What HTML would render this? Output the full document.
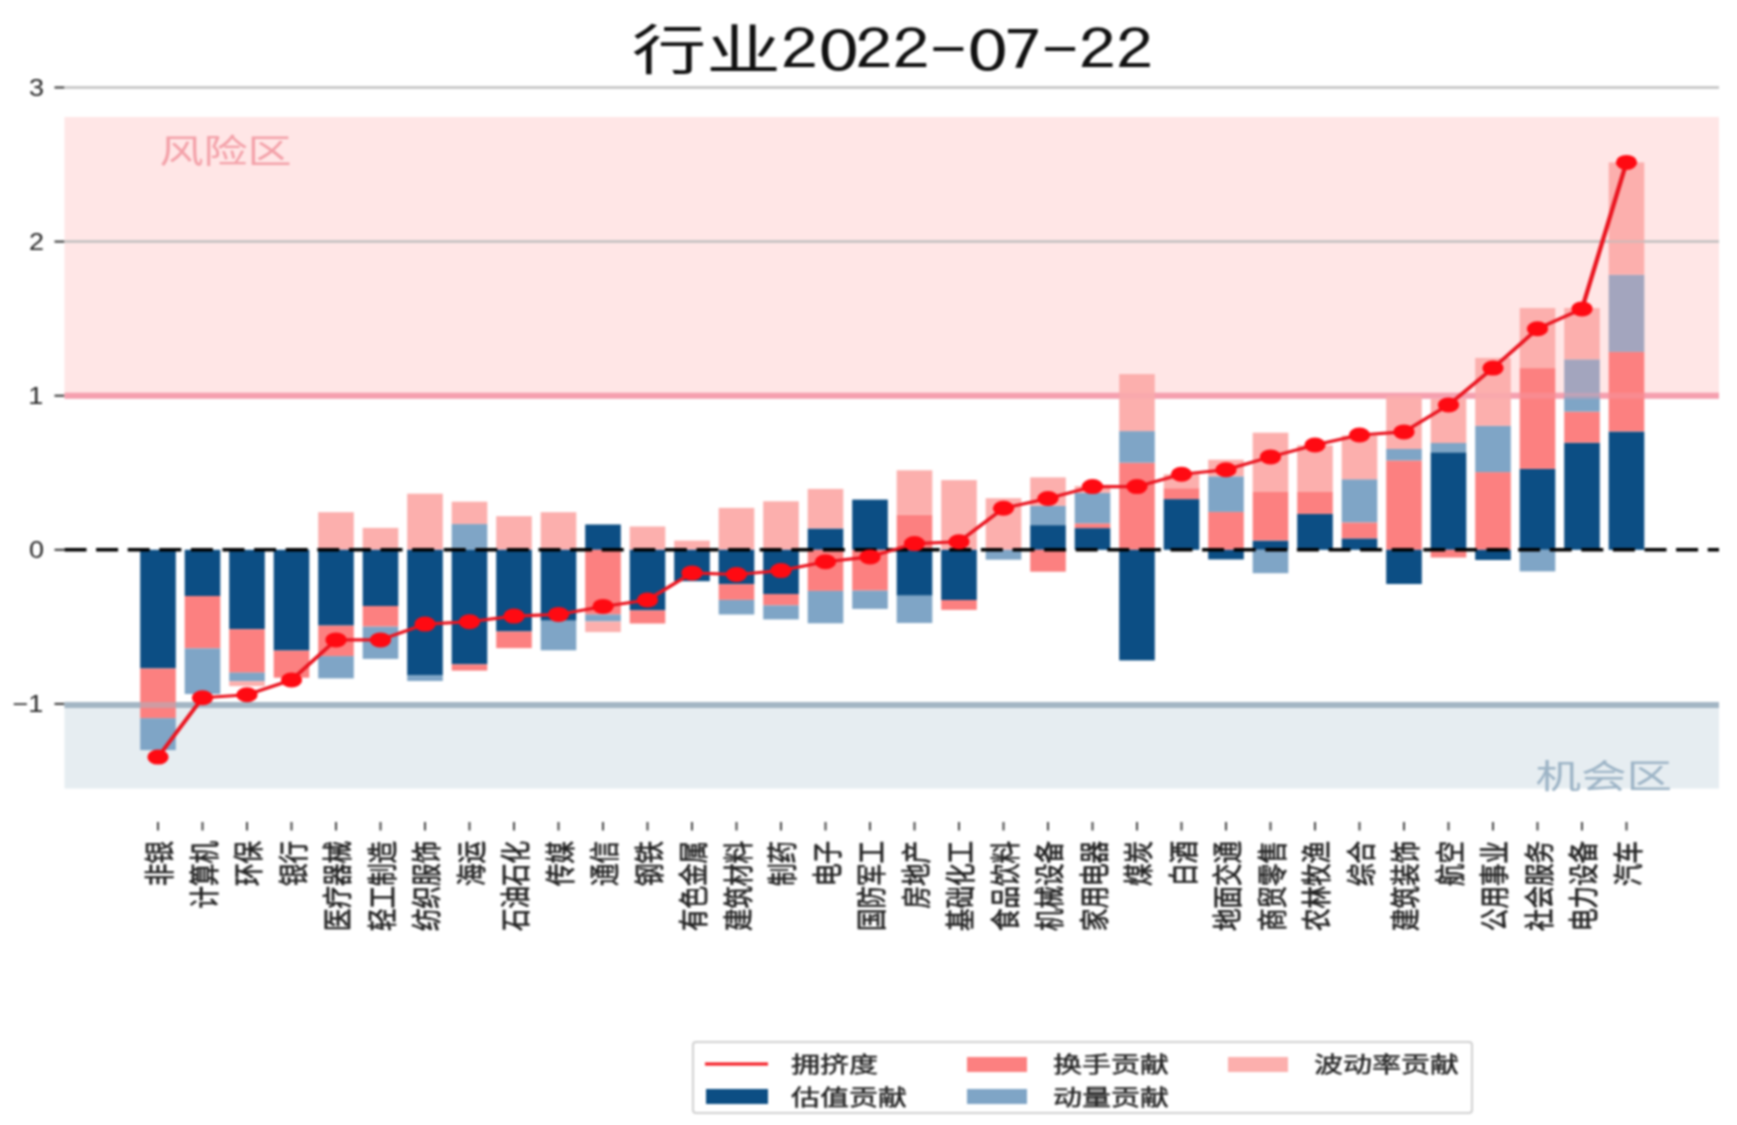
<!DOCTYPE html>
<html lang="zh"><head><meta charset="utf-8"><title>行业2022-07-22</title>
<style>html,body{margin:0;padding:0;background:#fff;}body{width:1737px;height:1125px;overflow:hidden;}svg{display:block;font-family:'Liberation Sans','Noto Sans CJK SC',sans-serif;filter:blur(1.1px);}</style>
</head><body>
<svg width="1737" height="1125" viewBox="0 0 1737 1125">
<rect width="1737" height="1125" fill="#fff"/>
<rect x="64.5" y="117.0" width="1654.5" height="278.7" fill="#ffe6e6"/>
<rect x="64.5" y="703.9" width="1654.5" height="84.6" fill="#e6edf1"/>
<line x1="54.5" x2="64.5" y1="87.5" y2="87.5" stroke="#333" stroke-width="2"/>
<text transform="translate(44.0,95.8) scale(1.15,1)" text-anchor="end" font-size="23.5" fill="#222">3</text>
<line x1="54.5" x2="64.5" y1="241.6" y2="241.6" stroke="#333" stroke-width="2"/>
<text transform="translate(44.0,249.9) scale(1.15,1)" text-anchor="end" font-size="23.5" fill="#222">2</text>
<line x1="54.5" x2="64.5" y1="395.7" y2="395.7" stroke="#333" stroke-width="2"/>
<text transform="translate(43.3,404.0) scale(1.15,1)" text-anchor="end" font-size="23.5" fill="#222">1</text>
<line x1="54.5" x2="64.5" y1="549.8" y2="549.8" stroke="#333" stroke-width="2"/>
<text transform="translate(44.0,558.1) scale(1.15,1)" text-anchor="end" font-size="23.5" fill="#222">0</text>
<line x1="54.5" x2="64.5" y1="703.9" y2="703.9" stroke="#333" stroke-width="2"/>
<text transform="translate(43.3,712.2) scale(1.15,1)" text-anchor="end" font-size="23.5" fill="#222">−1</text>
<line x1="64.5" x2="1719.0" y1="87.5" y2="87.5" stroke="#bdbdbd" stroke-width="2"/>
<line x1="64.5" x2="1719.0" y1="241.6" y2="241.6" stroke="#bdbdbd" stroke-width="2"/>
<line x1="64.5" x2="1719.0" y1="395.7" y2="395.7" stroke="#f5a0af" stroke-width="6"/>
<line x1="64.5" x2="1719.0" y1="704.9" y2="704.9" stroke="#a3b6c4" stroke-width="6"/>
<rect x="140.2" y="549.8" width="35.6" height="118.7" fill="#0c4e84"/>
<rect x="140.2" y="668.5" width="35.6" height="49.8" fill="#fc8080"/>
<rect x="140.2" y="718.2" width="35.6" height="31.9" fill="#7fa5c6"/>
<rect x="184.7" y="549.8" width="35.6" height="46.2" fill="#0c4e84"/>
<rect x="184.7" y="596.0" width="35.6" height="52.4" fill="#fc8080"/>
<rect x="184.7" y="648.4" width="35.6" height="45.6" fill="#7fa5c6"/>
<rect x="229.2" y="549.8" width="35.6" height="79.4" fill="#0c4e84"/>
<rect x="229.2" y="629.2" width="35.6" height="43.5" fill="#fc8080"/>
<rect x="229.2" y="672.6" width="35.6" height="8.6" fill="#7fa5c6"/>
<rect x="229.2" y="681.2" width="35.6" height="4.9" fill="#fcafad"/>
<rect x="273.7" y="549.8" width="35.6" height="100.8" fill="#0c4e84"/>
<rect x="273.7" y="650.6" width="35.6" height="27.1" fill="#fc8080"/>
<rect x="318.2" y="512.2" width="35.6" height="37.6" fill="#fcafad"/>
<rect x="318.2" y="549.8" width="35.6" height="75.8" fill="#0c4e84"/>
<rect x="318.2" y="625.6" width="35.6" height="30.5" fill="#fc8080"/>
<rect x="318.2" y="656.1" width="35.6" height="22.3" fill="#7fa5c6"/>
<rect x="362.7" y="527.9" width="35.6" height="21.9" fill="#fcafad"/>
<rect x="362.7" y="549.8" width="35.6" height="56.2" fill="#0c4e84"/>
<rect x="362.7" y="606.0" width="35.6" height="20.6" fill="#fc8080"/>
<rect x="362.7" y="626.7" width="35.6" height="32.2" fill="#7fa5c6"/>
<rect x="407.2" y="493.7" width="35.6" height="56.1" fill="#fcafad"/>
<rect x="407.2" y="549.8" width="35.6" height="125.7" fill="#0c4e84"/>
<rect x="407.2" y="675.5" width="35.6" height="5.5" fill="#7fa5c6"/>
<rect x="451.7" y="524.1" width="35.6" height="25.7" fill="#7fa5c6"/>
<rect x="451.7" y="501.7" width="35.6" height="22.3" fill="#fcafad"/>
<rect x="451.7" y="549.8" width="35.6" height="114.5" fill="#0c4e84"/>
<rect x="451.7" y="664.3" width="35.6" height="6.3" fill="#fc8080"/>
<rect x="496.2" y="516.2" width="35.6" height="33.6" fill="#fcafad"/>
<rect x="496.2" y="549.8" width="35.6" height="81.7" fill="#0c4e84"/>
<rect x="496.2" y="631.5" width="35.6" height="16.6" fill="#fc8080"/>
<rect x="540.7" y="512.2" width="35.6" height="37.6" fill="#fcafad"/>
<rect x="540.7" y="549.8" width="35.6" height="70.9" fill="#0c4e84"/>
<rect x="540.7" y="620.7" width="35.6" height="29.6" fill="#7fa5c6"/>
<rect x="585.2" y="524.5" width="35.6" height="25.3" fill="#0c4e84"/>
<rect x="585.2" y="549.8" width="35.6" height="64.7" fill="#fc8080"/>
<rect x="585.2" y="614.5" width="35.6" height="6.9" fill="#7fa5c6"/>
<rect x="585.2" y="621.5" width="35.6" height="10.6" fill="#fcafad"/>
<rect x="629.7" y="526.5" width="35.6" height="23.3" fill="#fcafad"/>
<rect x="629.7" y="549.8" width="35.6" height="60.6" fill="#0c4e84"/>
<rect x="629.7" y="610.4" width="35.6" height="13.1" fill="#fc8080"/>
<rect x="674.2" y="540.6" width="35.6" height="9.2" fill="#fcafad"/>
<rect x="674.2" y="549.8" width="35.6" height="31.4" fill="#0c4e84"/>
<rect x="718.7" y="507.9" width="35.6" height="41.9" fill="#fcafad"/>
<rect x="718.7" y="549.8" width="35.6" height="34.4" fill="#0c4e84"/>
<rect x="718.7" y="584.2" width="35.6" height="15.7" fill="#fc8080"/>
<rect x="718.7" y="599.9" width="35.6" height="14.6" fill="#7fa5c6"/>
<rect x="763.2" y="501.3" width="35.6" height="48.5" fill="#fcafad"/>
<rect x="763.2" y="549.8" width="35.6" height="44.2" fill="#0c4e84"/>
<rect x="763.2" y="594.0" width="35.6" height="11.4" fill="#fc8080"/>
<rect x="763.2" y="605.4" width="35.6" height="14.0" fill="#7fa5c6"/>
<rect x="807.7" y="528.5" width="35.6" height="21.3" fill="#0c4e84"/>
<rect x="807.7" y="488.9" width="35.6" height="39.6" fill="#fcafad"/>
<rect x="807.7" y="549.8" width="35.6" height="41.1" fill="#fc8080"/>
<rect x="807.7" y="590.9" width="35.6" height="32.4" fill="#7fa5c6"/>
<rect x="852.2" y="499.6" width="35.6" height="50.2" fill="#0c4e84"/>
<rect x="852.2" y="549.8" width="35.6" height="40.8" fill="#fc8080"/>
<rect x="852.2" y="590.6" width="35.6" height="18.3" fill="#7fa5c6"/>
<rect x="896.7" y="514.7" width="35.6" height="35.1" fill="#fc8080"/>
<rect x="896.7" y="470.3" width="35.6" height="44.4" fill="#fcafad"/>
<rect x="896.7" y="549.8" width="35.6" height="45.9" fill="#0c4e84"/>
<rect x="896.7" y="595.7" width="35.6" height="27.3" fill="#7fa5c6"/>
<rect x="941.2" y="480.1" width="35.6" height="69.7" fill="#fcafad"/>
<rect x="941.2" y="549.8" width="35.6" height="50.2" fill="#0c4e84"/>
<rect x="941.2" y="600.0" width="35.6" height="9.9" fill="#fc8080"/>
<rect x="985.7" y="498.2" width="35.6" height="51.6" fill="#fcafad"/>
<rect x="985.7" y="549.8" width="35.6" height="9.9" fill="#7fa5c6"/>
<rect x="1030.2" y="525.1" width="35.6" height="24.7" fill="#0c4e84"/>
<rect x="1030.2" y="505.9" width="35.6" height="19.3" fill="#7fa5c6"/>
<rect x="1030.2" y="477.4" width="35.6" height="28.5" fill="#fcafad"/>
<rect x="1030.2" y="549.8" width="35.6" height="21.9" fill="#fc8080"/>
<rect x="1074.7" y="528.1" width="35.6" height="21.7" fill="#0c4e84"/>
<rect x="1074.7" y="523.3" width="35.6" height="4.8" fill="#fc8080"/>
<rect x="1074.7" y="492.8" width="35.6" height="30.5" fill="#7fa5c6"/>
<rect x="1074.7" y="486.0" width="35.6" height="6.8" fill="#fcafad"/>
<rect x="1119.2" y="462.7" width="35.6" height="87.1" fill="#fc8080"/>
<rect x="1119.2" y="431.1" width="35.6" height="31.6" fill="#7fa5c6"/>
<rect x="1119.2" y="374.1" width="35.6" height="57.0" fill="#fcafad"/>
<rect x="1119.2" y="549.8" width="35.6" height="110.6" fill="#0c4e84"/>
<rect x="1163.7" y="499.1" width="35.6" height="50.7" fill="#0c4e84"/>
<rect x="1163.7" y="488.2" width="35.6" height="10.9" fill="#fc8080"/>
<rect x="1163.7" y="474.3" width="35.6" height="13.9" fill="#fcafad"/>
<rect x="1208.2" y="511.9" width="35.6" height="37.9" fill="#fc8080"/>
<rect x="1208.2" y="476.3" width="35.6" height="35.6" fill="#7fa5c6"/>
<rect x="1208.2" y="459.7" width="35.6" height="16.6" fill="#fcafad"/>
<rect x="1208.2" y="549.8" width="35.6" height="9.6" fill="#0c4e84"/>
<rect x="1252.7" y="540.6" width="35.6" height="9.2" fill="#0c4e84"/>
<rect x="1252.7" y="492.0" width="35.6" height="48.5" fill="#fc8080"/>
<rect x="1252.7" y="432.7" width="35.6" height="59.3" fill="#fcafad"/>
<rect x="1252.7" y="549.8" width="35.6" height="23.4" fill="#7fa5c6"/>
<rect x="1297.2" y="513.9" width="35.6" height="35.9" fill="#0c4e84"/>
<rect x="1297.2" y="492.0" width="35.6" height="21.9" fill="#fc8080"/>
<rect x="1297.2" y="445.3" width="35.6" height="46.7" fill="#fcafad"/>
<rect x="1341.7" y="538.4" width="35.6" height="11.4" fill="#0c4e84"/>
<rect x="1341.7" y="522.4" width="35.6" height="16.0" fill="#fc8080"/>
<rect x="1341.7" y="479.2" width="35.6" height="43.1" fill="#7fa5c6"/>
<rect x="1341.7" y="435.5" width="35.6" height="43.8" fill="#fcafad"/>
<rect x="1386.2" y="460.4" width="35.6" height="89.4" fill="#fc8080"/>
<rect x="1386.2" y="449.0" width="35.6" height="11.4" fill="#7fa5c6"/>
<rect x="1386.2" y="395.7" width="35.6" height="53.3" fill="#fcafad"/>
<rect x="1386.2" y="549.8" width="35.6" height="34.2" fill="#0c4e84"/>
<rect x="1430.7" y="452.3" width="35.6" height="97.5" fill="#0c4e84"/>
<rect x="1430.7" y="443.0" width="35.6" height="9.2" fill="#7fa5c6"/>
<rect x="1430.7" y="398.8" width="35.6" height="44.2" fill="#fcafad"/>
<rect x="1430.7" y="549.8" width="35.6" height="7.7" fill="#fc8080"/>
<rect x="1475.2" y="472.1" width="35.6" height="77.7" fill="#fc8080"/>
<rect x="1475.2" y="425.9" width="35.6" height="46.2" fill="#7fa5c6"/>
<rect x="1475.2" y="357.9" width="35.6" height="68.0" fill="#fcafad"/>
<rect x="1475.2" y="549.8" width="35.6" height="10.2" fill="#0c4e84"/>
<rect x="1519.7" y="468.9" width="35.6" height="80.9" fill="#0c4e84"/>
<rect x="1519.7" y="368.1" width="35.6" height="100.8" fill="#fc8080"/>
<rect x="1519.7" y="308.0" width="35.6" height="60.1" fill="#fcafad"/>
<rect x="1519.7" y="549.8" width="35.6" height="21.6" fill="#7fa5c6"/>
<rect x="1564.2" y="442.7" width="35.6" height="107.1" fill="#0c4e84"/>
<rect x="1564.2" y="411.6" width="35.6" height="31.1" fill="#fc8080"/>
<rect x="1564.2" y="395.7" width="35.6" height="15.9" fill="#7fa5c6"/>
<rect x="1564.2" y="359.3" width="35.6" height="36.4" fill="#a3a5be"/>
<rect x="1564.2" y="308.0" width="35.6" height="51.3" fill="#fcafad"/>
<rect x="1608.7" y="431.5" width="35.6" height="118.3" fill="#0c4e84"/>
<rect x="1608.7" y="351.9" width="35.6" height="79.5" fill="#fc8080"/>
<rect x="1608.7" y="274.7" width="35.6" height="77.2" fill="#a3a5be"/>
<rect x="1608.7" y="162.4" width="35.6" height="112.3" fill="#fcafad"/>
<line x1="64.5" x2="1719.0" y1="87.5" y2="87.5" stroke="#bdbdbd" stroke-width="2" opacity="0.75"/>
<line x1="64.5" x2="1719.0" y1="241.6" y2="241.6" stroke="#bdbdbd" stroke-width="2" opacity="0.75"/>
<line x1="64.5" x2="1719.0" y1="395.7" y2="395.7" stroke="#f5a0af" stroke-width="6" opacity="0.35"/>
<line x1="64.5" x2="1719.0" y1="704.9" y2="704.9" stroke="#a3b6c4" stroke-width="6" opacity="0.5"/>
<line x1="64.5" x2="1719.0" y1="549.8" y2="549.8" stroke="#000" stroke-width="3.4" stroke-dasharray="22 9.6"/>
<g transform="scale(1.42,1)">
<polyline points="111.27,757.1 142.61,697.7 173.94,694.7 205.28,680.0 236.62,639.9 267.96,639.9 299.30,624.1 330.63,621.8 361.97,616.1 393.31,614.4 424.65,606.4 455.99,600.0 487.32,572.9 518.66,574.5 550.00,570.6 581.34,561.7 612.68,556.9 644.01,543.6 675.35,541.8 706.69,508.2 738.03,498.5 769.37,486.6 800.70,486.6 832.04,474.3 863.38,469.7 894.72,456.9 926.06,445.0 957.39,435.0 988.73,431.9 1020.07,404.9 1051.41,368.1 1082.75,328.8 1114.08,308.9 1145.42,162.4" fill="none" stroke="#ea1520" stroke-width="3.1" stroke-linejoin="round"/>
<circle cx="111.27" cy="757.1" r="7.5" fill="#ff0a12"/>
<circle cx="142.61" cy="697.7" r="7.5" fill="#ff0a12"/>
<circle cx="173.94" cy="694.7" r="7.5" fill="#ff0a12"/>
<circle cx="205.28" cy="680.0" r="7.5" fill="#ff0a12"/>
<circle cx="236.62" cy="639.9" r="7.5" fill="#ff0a12"/>
<circle cx="267.96" cy="639.9" r="7.5" fill="#ff0a12"/>
<circle cx="299.30" cy="624.1" r="7.5" fill="#ff0a12"/>
<circle cx="330.63" cy="621.8" r="7.5" fill="#ff0a12"/>
<circle cx="361.97" cy="616.1" r="7.5" fill="#ff0a12"/>
<circle cx="393.31" cy="614.4" r="7.5" fill="#ff0a12"/>
<circle cx="424.65" cy="606.4" r="7.5" fill="#ff0a12"/>
<circle cx="455.99" cy="600.0" r="7.5" fill="#ff0a12"/>
<circle cx="487.32" cy="572.9" r="7.5" fill="#ff0a12"/>
<circle cx="518.66" cy="574.5" r="7.5" fill="#ff0a12"/>
<circle cx="550.00" cy="570.6" r="7.5" fill="#ff0a12"/>
<circle cx="581.34" cy="561.7" r="7.5" fill="#ff0a12"/>
<circle cx="612.68" cy="556.9" r="7.5" fill="#ff0a12"/>
<circle cx="644.01" cy="543.6" r="7.5" fill="#ff0a12"/>
<circle cx="675.35" cy="541.8" r="7.5" fill="#ff0a12"/>
<circle cx="706.69" cy="508.2" r="7.5" fill="#ff0a12"/>
<circle cx="738.03" cy="498.5" r="7.5" fill="#ff0a12"/>
<circle cx="769.37" cy="486.6" r="7.5" fill="#ff0a12"/>
<circle cx="800.70" cy="486.6" r="7.5" fill="#ff0a12"/>
<circle cx="832.04" cy="474.3" r="7.5" fill="#ff0a12"/>
<circle cx="863.38" cy="469.7" r="7.5" fill="#ff0a12"/>
<circle cx="894.72" cy="456.9" r="7.5" fill="#ff0a12"/>
<circle cx="926.06" cy="445.0" r="7.5" fill="#ff0a12"/>
<circle cx="957.39" cy="435.0" r="7.5" fill="#ff0a12"/>
<circle cx="988.73" cy="431.9" r="7.5" fill="#ff0a12"/>
<circle cx="1020.07" cy="404.9" r="7.5" fill="#ff0a12"/>
<circle cx="1051.41" cy="368.1" r="7.5" fill="#ff0a12"/>
<circle cx="1082.75" cy="328.8" r="7.5" fill="#ff0a12"/>
<circle cx="1114.08" cy="308.9" r="7.5" fill="#ff0a12"/>
<circle cx="1145.42" cy="162.4" r="7.5" fill="#ff0a12"/>
</g>
<line x1="158.0" x2="158.0" y1="822" y2="830.5" stroke="#444" stroke-width="2"/>
<text transform="translate(170.3,841) scale(1.32,1) rotate(-90)" text-anchor="end" font-size="22.5" fill="#222" stroke="#222" stroke-width="0.55">非银</text>
<line x1="202.5" x2="202.5" y1="822" y2="830.5" stroke="#444" stroke-width="2"/>
<text transform="translate(214.8,841) scale(1.32,1) rotate(-90)" text-anchor="end" font-size="22.5" fill="#222" stroke="#222" stroke-width="0.55">计算机</text>
<line x1="247.0" x2="247.0" y1="822" y2="830.5" stroke="#444" stroke-width="2"/>
<text transform="translate(259.3,841) scale(1.32,1) rotate(-90)" text-anchor="end" font-size="22.5" fill="#222" stroke="#222" stroke-width="0.55">环保</text>
<line x1="291.5" x2="291.5" y1="822" y2="830.5" stroke="#444" stroke-width="2"/>
<text transform="translate(303.8,841) scale(1.32,1) rotate(-90)" text-anchor="end" font-size="22.5" fill="#222" stroke="#222" stroke-width="0.55">银行</text>
<line x1="336.0" x2="336.0" y1="822" y2="830.5" stroke="#444" stroke-width="2"/>
<text transform="translate(348.3,841) scale(1.32,1) rotate(-90)" text-anchor="end" font-size="22.5" fill="#222" stroke="#222" stroke-width="0.55">医疗器械</text>
<line x1="380.5" x2="380.5" y1="822" y2="830.5" stroke="#444" stroke-width="2"/>
<text transform="translate(392.8,841) scale(1.32,1) rotate(-90)" text-anchor="end" font-size="22.5" fill="#222" stroke="#222" stroke-width="0.55">轻工制造</text>
<line x1="425.0" x2="425.0" y1="822" y2="830.5" stroke="#444" stroke-width="2"/>
<text transform="translate(437.3,841) scale(1.32,1) rotate(-90)" text-anchor="end" font-size="22.5" fill="#222" stroke="#222" stroke-width="0.55">纺织服饰</text>
<line x1="469.5" x2="469.5" y1="822" y2="830.5" stroke="#444" stroke-width="2"/>
<text transform="translate(481.8,841) scale(1.32,1) rotate(-90)" text-anchor="end" font-size="22.5" fill="#222" stroke="#222" stroke-width="0.55">海运</text>
<line x1="514.0" x2="514.0" y1="822" y2="830.5" stroke="#444" stroke-width="2"/>
<text transform="translate(526.3,841) scale(1.32,1) rotate(-90)" text-anchor="end" font-size="22.5" fill="#222" stroke="#222" stroke-width="0.55">石油石化</text>
<line x1="558.5" x2="558.5" y1="822" y2="830.5" stroke="#444" stroke-width="2"/>
<text transform="translate(570.8,841) scale(1.32,1) rotate(-90)" text-anchor="end" font-size="22.5" fill="#222" stroke="#222" stroke-width="0.55">传媒</text>
<line x1="603.0" x2="603.0" y1="822" y2="830.5" stroke="#444" stroke-width="2"/>
<text transform="translate(615.3,841) scale(1.32,1) rotate(-90)" text-anchor="end" font-size="22.5" fill="#222" stroke="#222" stroke-width="0.55">通信</text>
<line x1="647.5" x2="647.5" y1="822" y2="830.5" stroke="#444" stroke-width="2"/>
<text transform="translate(659.8,841) scale(1.32,1) rotate(-90)" text-anchor="end" font-size="22.5" fill="#222" stroke="#222" stroke-width="0.55">钢铁</text>
<line x1="692.0" x2="692.0" y1="822" y2="830.5" stroke="#444" stroke-width="2"/>
<text transform="translate(704.3,841) scale(1.32,1) rotate(-90)" text-anchor="end" font-size="22.5" fill="#222" stroke="#222" stroke-width="0.55">有色金属</text>
<line x1="736.5" x2="736.5" y1="822" y2="830.5" stroke="#444" stroke-width="2"/>
<text transform="translate(748.8,841) scale(1.32,1) rotate(-90)" text-anchor="end" font-size="22.5" fill="#222" stroke="#222" stroke-width="0.55">建筑材料</text>
<line x1="781.0" x2="781.0" y1="822" y2="830.5" stroke="#444" stroke-width="2"/>
<text transform="translate(793.3,841) scale(1.32,1) rotate(-90)" text-anchor="end" font-size="22.5" fill="#222" stroke="#222" stroke-width="0.55">制药</text>
<line x1="825.5" x2="825.5" y1="822" y2="830.5" stroke="#444" stroke-width="2"/>
<text transform="translate(837.8,841) scale(1.32,1) rotate(-90)" text-anchor="end" font-size="22.5" fill="#222" stroke="#222" stroke-width="0.55">电子</text>
<line x1="870.0" x2="870.0" y1="822" y2="830.5" stroke="#444" stroke-width="2"/>
<text transform="translate(882.3,841) scale(1.32,1) rotate(-90)" text-anchor="end" font-size="22.5" fill="#222" stroke="#222" stroke-width="0.55">国防军工</text>
<line x1="914.5" x2="914.5" y1="822" y2="830.5" stroke="#444" stroke-width="2"/>
<text transform="translate(926.8,841) scale(1.32,1) rotate(-90)" text-anchor="end" font-size="22.5" fill="#222" stroke="#222" stroke-width="0.55">房地产</text>
<line x1="959.0" x2="959.0" y1="822" y2="830.5" stroke="#444" stroke-width="2"/>
<text transform="translate(971.3,841) scale(1.32,1) rotate(-90)" text-anchor="end" font-size="22.5" fill="#222" stroke="#222" stroke-width="0.55">基础化工</text>
<line x1="1003.5" x2="1003.5" y1="822" y2="830.5" stroke="#444" stroke-width="2"/>
<text transform="translate(1015.8,841) scale(1.32,1) rotate(-90)" text-anchor="end" font-size="22.5" fill="#222" stroke="#222" stroke-width="0.55">食品饮料</text>
<line x1="1048.0" x2="1048.0" y1="822" y2="830.5" stroke="#444" stroke-width="2"/>
<text transform="translate(1060.3,841) scale(1.32,1) rotate(-90)" text-anchor="end" font-size="22.5" fill="#222" stroke="#222" stroke-width="0.55">机械设备</text>
<line x1="1092.5" x2="1092.5" y1="822" y2="830.5" stroke="#444" stroke-width="2"/>
<text transform="translate(1104.8,841) scale(1.32,1) rotate(-90)" text-anchor="end" font-size="22.5" fill="#222" stroke="#222" stroke-width="0.55">家用电器</text>
<line x1="1137.0" x2="1137.0" y1="822" y2="830.5" stroke="#444" stroke-width="2"/>
<text transform="translate(1149.3,841) scale(1.32,1) rotate(-90)" text-anchor="end" font-size="22.5" fill="#222" stroke="#222" stroke-width="0.55">煤炭</text>
<line x1="1181.5" x2="1181.5" y1="822" y2="830.5" stroke="#444" stroke-width="2"/>
<text transform="translate(1193.8,841) scale(1.32,1) rotate(-90)" text-anchor="end" font-size="22.5" fill="#222" stroke="#222" stroke-width="0.55">白酒</text>
<line x1="1226.0" x2="1226.0" y1="822" y2="830.5" stroke="#444" stroke-width="2"/>
<text transform="translate(1238.3,841) scale(1.32,1) rotate(-90)" text-anchor="end" font-size="22.5" fill="#222" stroke="#222" stroke-width="0.55">地面交通</text>
<line x1="1270.5" x2="1270.5" y1="822" y2="830.5" stroke="#444" stroke-width="2"/>
<text transform="translate(1282.8,841) scale(1.32,1) rotate(-90)" text-anchor="end" font-size="22.5" fill="#222" stroke="#222" stroke-width="0.55">商贸零售</text>
<line x1="1315.0" x2="1315.0" y1="822" y2="830.5" stroke="#444" stroke-width="2"/>
<text transform="translate(1327.3,841) scale(1.32,1) rotate(-90)" text-anchor="end" font-size="22.5" fill="#222" stroke="#222" stroke-width="0.55">农林牧渔</text>
<line x1="1359.5" x2="1359.5" y1="822" y2="830.5" stroke="#444" stroke-width="2"/>
<text transform="translate(1371.8,841) scale(1.32,1) rotate(-90)" text-anchor="end" font-size="22.5" fill="#222" stroke="#222" stroke-width="0.55">综合</text>
<line x1="1404.0" x2="1404.0" y1="822" y2="830.5" stroke="#444" stroke-width="2"/>
<text transform="translate(1416.3,841) scale(1.32,1) rotate(-90)" text-anchor="end" font-size="22.5" fill="#222" stroke="#222" stroke-width="0.55">建筑装饰</text>
<line x1="1448.5" x2="1448.5" y1="822" y2="830.5" stroke="#444" stroke-width="2"/>
<text transform="translate(1460.8,841) scale(1.32,1) rotate(-90)" text-anchor="end" font-size="22.5" fill="#222" stroke="#222" stroke-width="0.55">航空</text>
<line x1="1493.0" x2="1493.0" y1="822" y2="830.5" stroke="#444" stroke-width="2"/>
<text transform="translate(1505.3,841) scale(1.32,1) rotate(-90)" text-anchor="end" font-size="22.5" fill="#222" stroke="#222" stroke-width="0.55">公用事业</text>
<line x1="1537.5" x2="1537.5" y1="822" y2="830.5" stroke="#444" stroke-width="2"/>
<text transform="translate(1549.8,841) scale(1.32,1) rotate(-90)" text-anchor="end" font-size="22.5" fill="#222" stroke="#222" stroke-width="0.55">社会服务</text>
<line x1="1582.0" x2="1582.0" y1="822" y2="830.5" stroke="#444" stroke-width="2"/>
<text transform="translate(1594.3,841) scale(1.32,1) rotate(-90)" text-anchor="end" font-size="22.5" fill="#222" stroke="#222" stroke-width="0.55">电力设备</text>
<line x1="1626.5" x2="1626.5" y1="822" y2="830.5" stroke="#444" stroke-width="2"/>
<text transform="translate(1638.8,841) scale(1.32,1) rotate(-90)" text-anchor="end" font-size="22.5" fill="#222" stroke="#222" stroke-width="0.55">汽车</text>
<text transform="translate(159.5,162.5) scale(1.315,1)" font-size="33.5" fill="#f3a0a8">风险区</text>
<text transform="translate(1672,788) scale(1.36,1)" text-anchor="end" font-size="33.5" fill="#9db4c6">机会区</text>
<text transform="translate(892.5,70) scale(1.38,1)" text-anchor="middle" font-size="54" fill="#111"><tspan font-family="'Noto Sans CJK SC',sans-serif">行业</tspan><tspan font-family="IPAGothic,'Liberation Mono',monospace">2</tspan><tspan font-family="'Noto Sans CJK SC','Liberation Sans',sans-serif" letter-spacing="-3">0</tspan><tspan font-family="IPAGothic,'Liberation Mono',monospace">22-</tspan><tspan font-family="'Noto Sans CJK SC','Liberation Sans',sans-serif" letter-spacing="-3">0</tspan><tspan font-family="IPAGothic,'Liberation Mono',monospace">7-22</tspan></text>
<rect x="693" y="1042" width="779" height="71" fill="#fff" stroke="#d0d0d0" stroke-width="2" rx="3"/>
<line x1="705" x2="768" y1="1064" y2="1064" stroke="#f5141c" stroke-width="3"/>
<text transform="translate(791.0,1072.0) scale(1.32,1)" font-size="22" fill="#222" stroke="#222" stroke-width="0.4">拥挤度</text>
<rect x="706" y="1089" width="62" height="15" fill="#0c4e84"/>
<text transform="translate(791.0,1104.5) scale(1.32,1)" font-size="22" fill="#222" stroke="#222" stroke-width="0.4">估值贡献</text>
<rect x="967" y="1057" width="60" height="15" fill="#fc8080"/>
<text transform="translate(1053.0,1072.0) scale(1.32,1)" font-size="22" fill="#222" stroke="#222" stroke-width="0.4">换手贡献</text>
<rect x="967" y="1089" width="60" height="15" fill="#7fa5c6"/>
<text transform="translate(1053.0,1104.5) scale(1.32,1)" font-size="22" fill="#222" stroke="#222" stroke-width="0.4">动量贡献</text>
<rect x="1228" y="1057" width="60" height="15" fill="#fcafad"/>
<text transform="translate(1314.0,1072.0) scale(1.32,1)" font-size="22" fill="#222" stroke="#222" stroke-width="0.4">波动率贡献</text>
</svg></body></html>
